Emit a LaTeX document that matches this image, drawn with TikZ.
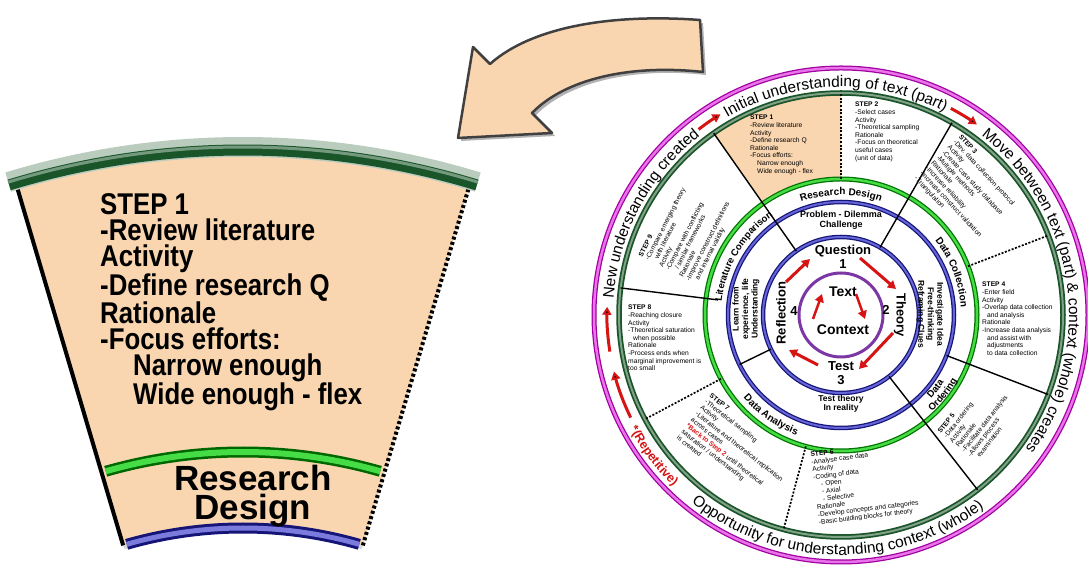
\documentclass[tikz,border=0pt]{standalone}
\usepackage{fontspec}
\setmainfont{Liberation Sans}
\newfontfamily\nf[FakeStretch=0.86]{Liberation Sans}
\usetikzlibrary{decorations.text,arrows.meta}
\definecolor{peach}{RGB}{250,214,176}
\definecolor{dgreen}{RGB}{25,85,40}
\definecolor{lgreen}{RGB}{70,220,70}
\definecolor{cblue}{RGB}{35,35,200}
\definecolor{cmag}{RGB}{215,0,215}
\definecolor{cpurp}{RGB}{125,55,165}
\definecolor{cred}{RGB}{215,20,20}
\begin{document}
\begin{tikzpicture}[x=1pt,y=1pt]
\tikzset{
 redarr/.style={draw=cred, line width=3pt, -{Triangle[length=8pt,width=9pt]}},
 sepline/.style={line width=1.4pt, draw=black},
 dotline/.style={line width=1.7pt, draw=black, dash pattern=on 2pt off 1.6pt},
 steptxt/.style={font=\fontsize{6.7}{7.6}\selectfont, align=left, inner sep=0pt, anchor=north west},
 ringlbl/.style={font=\bfseries\fontsize{13}{14}\selectfont, inner sep=0pt, align=center},
 bandlbl/.style={font=\bfseries\fontsize{8.5}{9.5}\selectfont, inner sep=0pt, align=center},
 bigtxt/.style={font=\nf\bfseries\fontsize{30}{26}\selectfont, inner sep=0pt, align=left, anchor=north west},
}
\useasboundingbox (0,0) rectangle (1088,569);
\fill[white] (0,0) rectangle (1088,569);

% ---------------- big arrow ----------------
\fill[black!30] (703,546) .. controls (623,552) and (538,542) .. (493,502) -- (476,519) -- (461,428) -- (555,433) -- (535,453) .. controls (568,487) and (633,502) .. (706,494) -- cycle;
\draw[line width=2.5pt, draw=black!75, fill=peach, line join=round] (700,549) .. controls (620,555) and (535,545) .. (490,505) -- (473,522) -- (458,431) -- (552,436) -- (532,456) .. controls (565,490) and (630,505) .. (703,497) -- cycle;

% ---------------- big sector (left) ----------------
\coordinate (A) at (243,-381);
\begin{scope}[shift={(4,-4)}]
\fill[black!15] ([shift={(73.5:418)}]A) arc[start angle=73.5,end angle=106.5,radius=418] -- ([shift={(106.5:806)}]A) arc[start angle=106.5,end angle=73.5,radius=806] -- cycle;
\end{scope}
\fill[peach] ([shift={(73.5:422)}]A) arc[start angle=73.5,end angle=106.5,radius=422] -- ([shift={(106.5:800)}]A) arc[start angle=106.5,end angle=73.5,radius=800] -- cycle;
\draw[line width=4pt] ([shift={(106.5:422)}]A) -- ([shift={(106.5:800)}]A);
\draw[line width=4pt, dash pattern=on 3pt off 2.5pt] ([shift={(73.5:422)}]A) -- ([shift={(73.5:800)}]A);
\draw[line width=20pt, dgreen!30!white] ([shift={(107:803)}]A) arc[start angle=107,end angle=73,radius=803];
\draw[line width=11pt, dgreen] ([shift={(107:800)}]A) arc[start angle=107,end angle=73,radius=800];
\draw[line width=3pt, dgreen!60!white] ([shift={(107:803)}]A) arc[start angle=107,end angle=73,radius=803];
\draw[line width=11pt, green!40!black] ([shift={(106:498)}]A) arc[start angle=106,end angle=74,radius=498];
\draw[line width=6pt, lgreen] ([shift={(106:498)}]A) arc[start angle=106,end angle=74,radius=498];
\draw[line width=11pt, cblue!60!black] ([shift={(106:422)}]A) arc[start angle=106,end angle=74,radius=422];
\draw[line width=5pt, cblue!60!white] ([shift={(106:422)}]A) arc[start angle=106,end angle=74,radius=422];
\node[bigtxt] (bigstep) at (100,376) {STEP 1\\-Review literature\\Activity\\-Define research Q\\Rationale\\-Focus efforts:\\\hspace*{33pt}Narrow enough\\\hspace*{33pt}Wide enough - flex};
\node[font=\bfseries\fontsize{35}{29}\selectfont, inner sep=0pt, align=center] (bigrd) at (253,73) {Research\\Design};

% ---------------- circle ----------------
\coordinate (C) at (841,254);
\fill[peach] ([shift={(90:136)}]C) arc[start angle=90,end angle=125,radius=136] -- ([shift={(125:222)}]C) arc[start angle=125,end angle=90,radius=222] -- cycle;

% rings
\draw[line width=5pt, cmag!75!black] (C) circle[radius=247];
\draw[line width=2.5pt, cmag!55!white] (C) circle[radius=247];
\draw[line width=5.5pt, dgreen] (C) circle[radius=222];
\draw[line width=2pt, dgreen!55!white] (C) circle[radius=222];
\draw[line width=5pt, green!45!black] (C) circle[radius=136];
\draw[line width=2.5pt, lgreen] (C) circle[radius=136];
\draw[line width=4.5pt, cblue!60!black] (C) circle[radius=113];
\draw[line width=2pt, cblue!70!white] (C) circle[radius=113];
\draw[line width=4.5pt, cblue!60!black] (C) circle[radius=78];
\draw[line width=2pt, cblue!70!white] (C) circle[radius=78];
\draw[line width=3pt, cpurp] (C) circle[radius=42];

% separators
\draw[sepline] ([shift={(125:78)}]C) -- ([shift={(125:222)}]C);
\draw[sepline] ([shift={(60:78)}]C) -- ([shift={(60:222)}]C);
\draw[sepline] ([shift={(308:78)}]C) -- ([shift={(308:222)}]C);
\draw[sepline] ([shift={(339:113)}]C) -- ([shift={(339:222)}]C);
\draw[sepline] ([shift={(173:124)}]C) -- ([shift={(173:222)}]C);
\draw[sepline] ([shift={(206:78)}]C) -- ([shift={(206:113)}]C);
\draw[dotline] ([shift={(90:136)}]C) -- ([shift={(90:222)}]C);
\draw[dotline] ([shift={(21:136)}]C) -- ([shift={(21:222)}]C);
\draw[dotline] ([shift={(208:136)}]C) -- ([shift={(208:222)}]C);
\draw[dotline] ([shift={(255:136)}]C) -- ([shift={(255:222)}]C);

% outer band texts
\path[decorate, decoration={text along path, text align=center, text={|\fontsize{15.5}{18}\selectfont|Initial understanding of text (part)}}] ([shift={(150:228)}]C) arc[start angle=150,end angle=33,radius=228];
\path[decorate, decoration={text along path, text align=center, text={|\fontsize{15.5}{18}\selectfont|Move between text (part) {\&} context (whole) creates}}] ([shift={(58:228)}]C) arc[start angle=58,end angle=-42,radius=228];
\path[decorate, decoration={text along path, text align=center, text={|\fontsize{15.5}{18}\selectfont|New understanding created}}] ([shift={(200:228)}]C) arc[start angle=200,end angle=104,radius=228];
\path[decorate, decoration={text along path, text align=center, text={|\fontsize{15.5}{18}\selectfont|Opportunity for understanding context (whole)}}] ([shift={(227:240)}]C) arc[start angle=227,end angle=311,radius=240];
\path[decorate, decoration={text along path, text align=center, text color=cred, text={|\bfseries\fontsize{12.5}{15}\selectfont|*(Repetitive)}}] ([shift={(203:240)}]C) arc[start angle=203,end angle=231,radius=240];

% outer band arrows
\draw[redarr] ([shift={(127.5:234)}]C) arc[start angle=127.5,end angle=121,radius=234];
\draw[redarr] ([shift={(62:234)}]C) arc[start angle=62,end angle=54.5,radius=234];
\draw[redarr] ([shift={(189:234)}]C) arc[start angle=189,end angle=178,radius=234];
\draw[redarr] ([shift={(206:234)}]C) arc[start angle=206,end angle=194,radius=234];

% green band labels
\path[decorate, decoration={text along path, text align=center, text={|\bfseries\fontsize{10}{12}\selectfont|Research Design}}] ([shift={(130:120)}]C) arc[start angle=130,end angle=50,radius=120];
\path[decorate, decoration={text along path, text align=center, text={|\bfseries\fontsize{10}{12}\selectfont|Data Collection}}] ([shift={(61:120)}]C) arc[start angle=61,end angle=-19,radius=120];
\path[decorate, decoration={text along path, text align=center, text={|\bfseries\fontsize{9.6}{12}\selectfont|Literature Comparison}}] ([shift={(189:120)}]C) arc[start angle=189,end angle=109,radius=120];
\path[decorate, decoration={text along path, text align=center, text={|\bfseries\fontsize{10}{12}\selectfont|Data Analysis}}] ([shift={(205:128)}]C) arc[start angle=205,end angle=265,radius=128];
\path[decorate, decoration={text along path, text align=center, text={|\bfseries\fontsize{9.6}{12}\selectfont|Data}}] ([shift={(302:123)}]C) arc[start angle=302,end angle=342,radius=123];
\path[decorate, decoration={text along path, text align=center, text={|\bfseries\fontsize{9.6}{12}\selectfont|Ordering}}] ([shift={(302:133)}]C) arc[start angle=302,end angle=342,radius=133];

% inner band labels
\node[bandlbl, font=\bfseries\fontsize{9}{10}\selectfont] (prob) at (841,349) {Problem - Dilemma\\Challenge};
\node[bandlbl, rotate=-90] (inv) at (930,255) {Investigate Idea\\Free-thinking\\Reframing Clues};
\node[bandlbl] (ttr) at (841,165) {Test theory\\In reality};
\node[bandlbl, rotate=90] (learn) at (746,260) {Learn from\\experience, life\\Understanding};

% ring labels
\node[ringlbl] (q) at (843,312) {Question\\1};
\node[ringlbl, rotate=-90] (th) at (900,254) {Theory};
\node[ringlbl] (n2) at (886,259) {2};
\node[ringlbl] (te) at (841,196) {Test\\3};
\node[ringlbl, rotate=90] (re) at (781,256) {Reflection};
\node[ringlbl] (n4) at (794,258) {4};
\node[ringlbl, font=\bfseries\fontsize{14}{15}\selectfont] (tx) at (843,277) {Text};
\node[ringlbl, font=\bfseries\fontsize{14}{15}\selectfont] (cx) at (843,239) {Context};

\coordinate (qa1) at (860,311); \coordinate (qa2) at (896,280);
\coordinate (ta1) at (893,236); \coordinate (ta2) at (859,200);
\coordinate (ea1) at (818,204); \coordinate (ea2) at (789,219);
\coordinate (ra1) at (786,287); \coordinate (ra2) at (810,310);
\coordinate (ca1) at (813,250); \coordinate (ca2) at (822,275);
\coordinate (xa1) at (856,275); \coordinate (xa2) at (865,250);
\draw[redarr] (qa1) -- (qa2);
\draw[redarr] (ta1) -- (ta2);
\draw[redarr] (ea1) -- (ea2);
\draw[redarr] (ra1) -- (ra2);
\draw[redarr, line width=2.5pt] (ca1) -- (ca2);
\draw[redarr, line width=2.5pt] (xa1) -- (xa2);

% step texts
\node[steptxt] (s1) at (750,454) {\textbf{STEP 1}\\-Review literature\\Activity\\-Define research Q\\Rationale\\-Focus efforts:\\\hspace*{7pt}Narrow enough\\\hspace*{7pt}Wide enough - flex};
\node[steptxt] (s2) at (855,467) {\textbf{STEP 2}\\-Select cases\\Activity\\-Theoretical sampling\\Rationale\\-Focus on theoretical\\useful cases\\(unit of data)};
\node[steptxt, rotate=-47] (s3) at (962,435) {\textbf{STEP 3}\\-Dev. data collection protocol\\Activity\\-Create case study database\\-Multiple methods\\Rationale\\-Increase reliability\\-Increase construct validation\\-Triangulation};
\node[steptxt] (s4) at (982,287) {\textbf{STEP 4}\\-Enter field\\Activity\\-Overlap data collection\\\hspace*{5pt}and analysis\\Rationale\\-Increase data analysis\\\hspace*{5pt}and assist with\\\hspace*{5pt}adjustments\\\hspace*{5pt}to data collection};
\node[steptxt, rotate=52] (s5) at (937,138) {\textbf{STEP 5}\\-Data ordering\\Activity\\Rationale\\-Facilitate data analysis\\-Allows process\\\hspace*{5pt}examination};
\node[steptxt, rotate=7] (s6) at (810,117) {\textbf{STEP 6}\\-Analyse case data\\Activity\\-Coding of data\\\hspace*{7pt}- Open\\\hspace*{7pt}- Axial\\\hspace*{7pt}- Selective\\Rationale\\-Develop concepts and  categories\\-Basic building blocks for theory};
\node[steptxt, rotate=-38] (s7) at (712,176) {\textbf{STEP 7}\\-Theoretical sampling\\Activity\\-Literature and theoretical replication\\across cases\\\textcolor{cred}{\textbf{*Back to Step 2}} until theoretical\\saturation / understanding\\is created};
\node[steptxt] (s8) at (628,264) {\textbf{STEP 8}\\-Reaching closure\\Activity\\-Theoretical saturation\\\hspace*{5pt}when possible\\Rationale\\-Process ends when\\marginal improvement is\\too small};
\node[steptxt, rotate=63] (s9) at (638,314) {\textbf{STEP 9}\\-Compare emerging theory\\\hspace*{5pt}with literature\\Activity\\-Compare with conflicting\\\hspace*{5pt}/ similar frameworks\\Rationale\\-Improve construct definitions\\\hspace*{5pt}and internal validity};
\end{tikzpicture}
\end{document}
